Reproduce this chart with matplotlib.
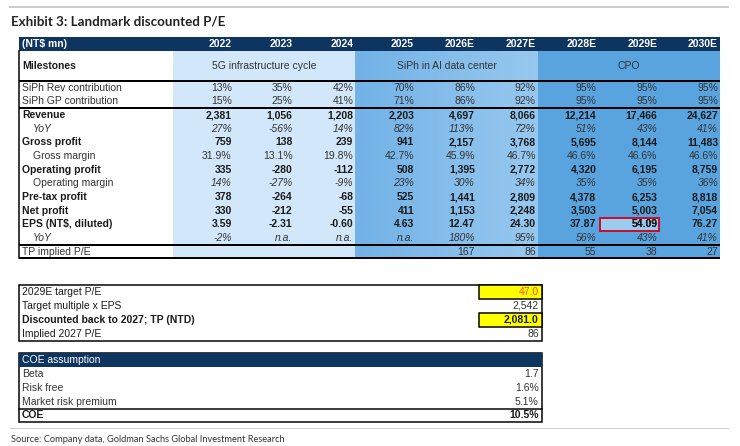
import matplotlib.pyplot as plt
from matplotlib.patches import Rectangle
from matplotlib.colors import LinearSegmentedColormap
import numpy as np

# ---- data ----
years = ['2022', '2023', '2024', '2025', '2026E', '2027E', '2028E', '2029E', '2030E']
milestones = ['5G infrastructure cycle', 'SiPh in AI data center', 'CPO']

siph_rev = ['13%', '35%', '42%', '70%', '86%', '92%', '95%', '95%', '95%']
siph_gp = ['15%', '25%', '41%', '71%', '86%', '92%', '95%', '95%', '95%']
revenue = ['2,381', '1,056', '1,208', '2,203', '4,697', '8,066', '12,214', '17,466', '24,627']
rev_yoy = ['27%', '-56%', '14%', '82%', '113%', '72%', '51%', '43%', '41%']
gross_profit = ['759', '138', '239', '941', '2,157', '3,768', '5,695', '8,144', '11,483']
gross_margin = ['31.9%', '13.1%', '19.8%', '42.7%', '45.9%', '46.7%', '46.6%', '46.6%', '46.6%']
op_profit = ['335', '-280', '-112', '508', '1,395', '2,772', '4,320', '6,195', '8,759']
op_margin = ['14%', '-27%', '-9%', '23%', '30%', '34%', '35%', '35%', '36%']
pretax = ['378', '-264', '-68', '525', '1,441', '2,809', '4,378', '6,253', '8,818']
net_profit = ['330', '-212', '-55', '411', '1,153', '2,248', '3,503', '5,003', '7,054']
eps = ['3.59', '-2.31', '-0.60', '4.63', '12.47', '24.30', '37.87', '54.09', '76.27']
eps_yoy = ['-2%', 'n.a.', 'n.a.', 'n.a.', '180%', '95%', '56%', '43%', '41%']
tp_pe = ['', '', '', '', '167', '86', '55', '38', '27']

tp_labels = ['2029E target P/E', 'Target multiple x EPS', 'Discounted back to 2027; TP (NTD)', 'Implied 2027 P/E']
tp_values = ['47.0', '2,542', '2,081.0', '86']

coe_labels = ['Beta', 'Risk free', 'Market risk premium', 'COE']
coe_values = ['1.7', '1.6%', '5.1%', '10.5%']

# ---- figure in pixel coords ----
W, H = 740, 446
fig = plt.figure(figsize=(7.4, 4.46), dpi=100)
ax = fig.add_axes([0, 0, 1, 1])
ax.set_xlim(0, W)
ax.set_ylim(H, 0)
ax.axis('off')

FONT = ['Liberation Sans', 'DejaVu Sans']
HEAD_FONT = ['Lato', 'DejaVu Sans']
NAVY = '#0e3560'
TXT = '#1a1a1a'
FS = 7.5
PX = 0.72  # points per pixel

left, right = 19, 720
lab_right = 173
col_w = (right - lab_right) / len(years)
row_h = 13.65
head_top, head_bot = 37, 51
ms_bot = 81

def col_x0(i):
    return lab_right + i * col_w

# title and rules
ax.plot([10, 728], [7, 7], color='#cccccc', lw=2 * PX)
ax.text(11, 21.5, 'Exhibit 3: Landmark discounted P/E', family=HEAD_FONT,
        weight='bold', fontsize=9.6, color='#222222', va='center', ha='left')

# header
ax.add_patch(Rectangle((left, head_top), right - left, head_bot - head_top, color=NAVY, lw=0))
ax.text(22, (head_top + head_bot) / 2, '(NT$ mn)', family=FONT, weight='bold', fontsize=FS,
        color='white', va='center')
for i, yr in enumerate(years):
    ax.text(col_x0(i + 1) - 2, (head_top + head_bot) / 2, yr, family=FONT, weight='bold',
            fontsize=FS, color='white', va='center', ha='right')

# label, values, label weight, value weight, indented
body = [
    ('SiPh Rev contribution', siph_rev, 'normal', 'normal', False),
    ('SiPh GP contribution', siph_gp, 'normal', 'normal', False),
    ('Revenue', revenue, 'bold', 'bold', False),
    ('YoY', rev_yoy, 'normal', 'normal', True),
    ('Gross profit', gross_profit, 'bold', 'bold', False),
    ('Gross margin', gross_margin, 'normal', 'normal', True),
    ('Operating profit', op_profit, 'bold', 'bold', False),
    ('Operating margin', op_margin, 'normal', 'normal', True),
    ('Pre-tax profit', pretax, 'bold', 'bold', False),
    ('Net profit', net_profit, 'bold', 'bold', False),
    ('EPS (NT$, diluted)', eps, 'bold', 'bold', False),
    ('YoY', eps_yoy, 'normal', 'normal', True),
    ('TP implied P/E', tp_pe, 'normal', 'normal', False),
]
body_bot = ms_bot + len(body) * row_h

# zone fills
ax.add_patch(Rectangle((col_x0(0), head_bot), 3 * col_w, body_bot - head_bot, color='#d2e7f9', lw=0))
grad = np.linspace(0, 1, 64)[None, :]
cm2 = LinearSegmentedColormap.from_list('z2', ['#72b2e7', '#97c8ef'])
ax.imshow(grad, cmap=cm2, aspect='auto', extent=(col_x0(3), col_x0(6), body_bot, head_bot), zorder=0.5)
ax.add_patch(Rectangle((col_x0(6), head_bot), 3 * col_w, body_bot - head_bot, color='#59a4df', lw=0))
ax.set_xlim(0, W)
ax.set_ylim(H, 0)

# milestones row
ms_y = (head_bot + ms_bot) / 2
ax.text(22, ms_y, 'Milestones', family=FONT, weight='bold', fontsize=FS, color=TXT, va='center')
for k, m in enumerate(milestones):
    ax.text(col_x0(3 * k) + 1.5 * col_w, ms_y, m, family=FONT, fontsize=FS, color='#333333',
            va='center', ha='center')

# body rows
for r, (lab, vals, lweight, vweight, indent) in enumerate(body):
    yc = ms_bot + (r + 0.5) * row_h
    lstyle = 'italic' if lab == 'YoY' else 'normal'
    ax.text(22 + (11 if indent else 0), yc, lab, family=FONT, weight=lweight, style=lstyle,
            fontsize=FS, color=TXT if lweight == 'bold' else '#333333', va='center')
    italic_vals = lab in ('YoY', 'Operating margin')
    for i, v in enumerate(vals):
        ax.text(col_x0(i + 1) - 2, yc, v, family=FONT, weight=vweight,
                style='italic' if italic_vals else 'normal', fontsize=FS,
                color=TXT if vweight == 'bold' else '#333333', va='center', ha='right')

# highlighted 2029E EPS cell
eps_row = 10
ax.add_patch(Rectangle((col_x0(7) + 2, ms_bot + eps_row * row_h + 0.5), col_w - 2, row_h - 1,
                       facecolor='#9ccbf0', edgecolor='#c8102e', lw=2 * PX, zorder=1.5))
ax.text(col_x0(8) - 2, ms_bot + (eps_row + 0.5) * row_h, eps[7], family=FONT, weight='bold',
        fontsize=FS, color=TXT, va='center', ha='right', zorder=3)

# table lines
for y in [ms_bot, ms_bot + 2 * row_h, ms_bot + 12 * row_h, body_bot]:
    ax.plot([left, right], [y, y], color='black', lw=2 * PX, solid_capstyle='butt')
ax.plot([left, left], [head_bot, body_bot], color='black', lw=1.5 * PX)

# ---- TP table ----
tp_top = 285
tp_h = 13.9
t_right = 541.7
val_x0 = 479.3
ax.add_patch(Rectangle((left, tp_top), t_right - left, 4 * tp_h, facecolor='white',
                       edgecolor='black', lw=1.5 * PX, zorder=2))
for r, (lab, val) in enumerate(zip(tp_labels, tp_values)):
    yc = tp_top + (r + 0.5) * tp_h
    bold = r == 2
    if r in (0, 2):
        ax.add_patch(Rectangle((val_x0, tp_top + r * tp_h), t_right - val_x0, tp_h,
                               facecolor='#ffff00', edgecolor='black', lw=1.5 * PX, zorder=2.5))
    ax.text(22, yc, lab, family=FONT, weight='bold' if bold else 'normal', fontsize=FS,
            color=TXT, va='center', zorder=3)
    ax.text(t_right - 3, yc, val, family=FONT, weight='bold' if bold else 'normal', fontsize=FS,
            color='#ff4a1a' if r == 0 else ('#1a1a1a' if bold else '#333333'),
            va='center', ha='right', zorder=3)

# ---- COE table ----
coe_top = 353.3
coe_head = 14
coe_h = 13.75
coe_bot = coe_top + coe_head + 4 * coe_h
ax.add_patch(Rectangle((left, coe_top), t_right - left, coe_bot - coe_top, facecolor='white',
                       edgecolor='black', lw=1.5 * PX, zorder=2))
ax.add_patch(Rectangle((left, coe_top), t_right - left, coe_head, color=NAVY, lw=0, zorder=2.2))
ax.text(22, coe_top + coe_head / 2, 'COE assumption', family=FONT, fontsize=FS, color='white',
        va='center', zorder=3)
for r, (lab, val) in enumerate(zip(coe_labels, coe_values)):
    yc = coe_top + coe_head + (r + 0.5) * coe_h
    bold = r == 3
    ax.text(22, yc, lab, family=FONT, weight='bold' if bold else 'normal', fontsize=FS,
            color=TXT if bold else '#333333', va='center', zorder=3)
    ax.text(t_right - 3, yc, val, family=FONT, weight='bold' if bold else 'normal', fontsize=FS,
            color=TXT if bold else '#333333', va='center', ha='right', zorder=3)
ax.plot([left, t_right], [coe_top + coe_head + 3 * coe_h] * 2, color='black', lw=1.5 * PX, zorder=3)

# source
ax.plot([10, 728], [428.3, 428.3], color='#d0d0d0', lw=1 * PX)
ax.text(11, 439, 'Source: Company data, Goldman Sachs Global Investment Research',
        family=HEAD_FONT, fontsize=6.7, color='#333333', va='center')

fig.savefig('out.png', dpi=100)
